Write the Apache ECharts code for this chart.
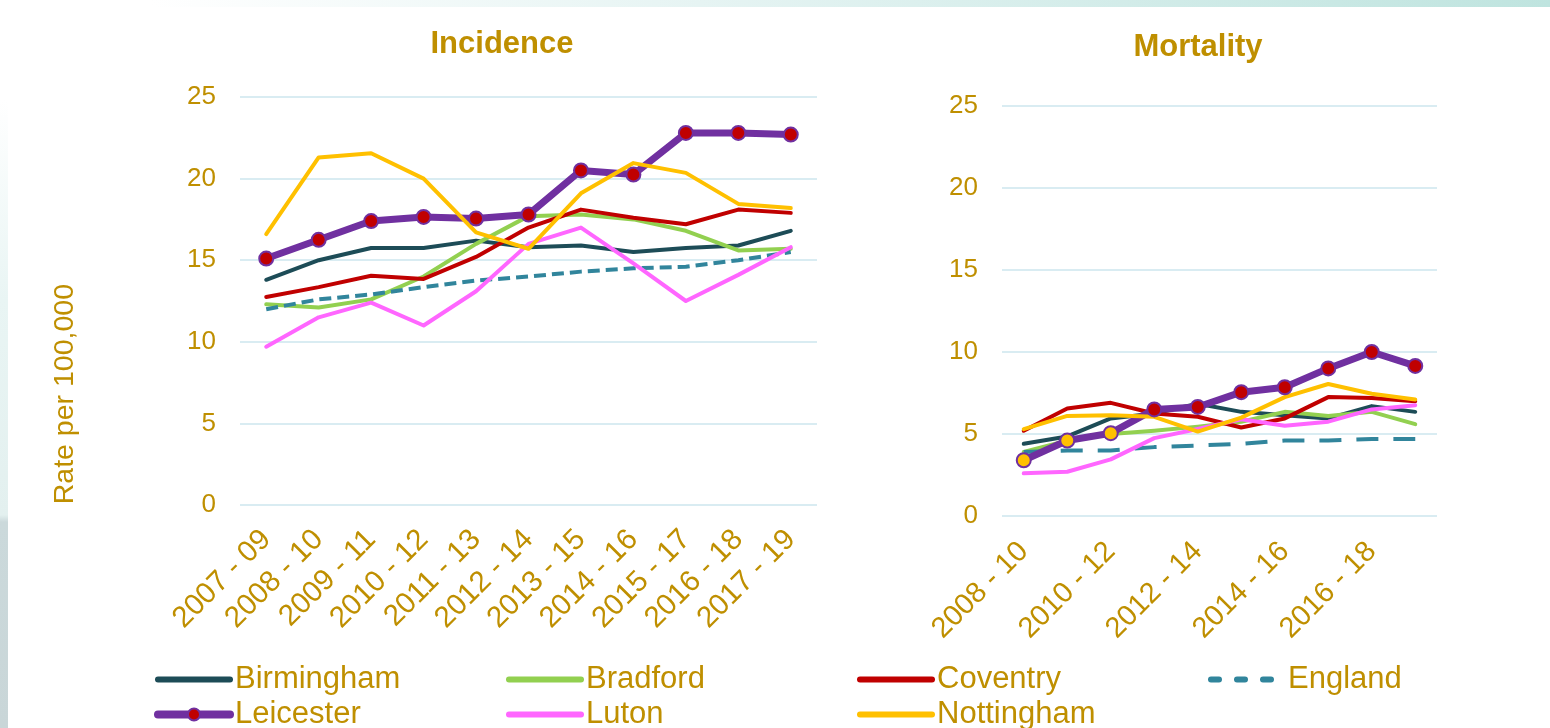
<!DOCTYPE html>
<html>
<head>
<meta charset="utf-8">
<script src="https://cdn.jsdelivr.net/npm/echarts@6/dist/echarts.min.js"></script>
<style>
  html, body { margin: 0; padding: 0; background: #ffffff; }
  #topbar { position: absolute; left: 0; top: 0; width: 1550px; height: 7px;
    background: linear-gradient(to right, #ffffff 0px, #ffffff 150px, #e6f4f3 700px, #bfe4df 1550px); }
  #leftbar { position: absolute; left: 0; top: 100px; width: 8px; height: 628px;
    background: linear-gradient(to bottom, #ffffff 0px, #e9f5f4 200px, #e3f0ef 415px, #cbd9db 422px, #c9d6d8 628px); }
  #chart { position: absolute; left: 0; top: 0; width: 1550px; height: 728px; }
</style>
</head>
<body>
<div id="topbar"></div>
<div id="leftbar"></div>
<div id="chart"></div>
<script>
// ---- Data ----
const incidenceCategories = ['2007 - 09','2008 - 10','2009 - 11','2010 - 12','2011 - 13','2012 - 14','2013 - 15','2014 - 16','2015 - 17','2016 - 18','2017 - 19'];
const mortalityCategories = ['2008 - 10','2009 - 11','2010 - 12','2011 - 13','2012 - 14','2013 - 15','2014 - 16','2015 - 17','2016 - 18','2017 - 19'];
const yTicks = [0, 5, 10, 15, 20, 25];

const seriesNames = ['Birmingham','Bradford','Coventry','England','Leicester','Luton','Nottingham'];

const incBirmingham = [13.8, 15.0, 15.75, 15.75, 16.2, 15.8, 15.9, 15.5, 15.75, 15.9, 16.8];
const incBradford   = [12.3, 12.1, 12.6, 14.0, 16.0, 17.7, 17.8, 17.5, 16.8, 15.6, 15.7];
const incCoventry   = [12.75, 13.35, 14.05, 13.85, 15.2, 17.0, 18.1, 17.6, 17.2, 18.1, 17.9];
const incEngland    = [12.0, 12.6, 12.9, 13.35, 13.75, 14.0, 14.3, 14.5, 14.6, 15.0, 15.5];
const incLeicester  = [15.1, 16.25, 17.4, 17.65, 17.55, 17.8, 20.5, 20.25, 22.8, 22.8, 22.7];
const incLuton      = [9.7, 11.5, 12.4, 11.0, 13.1, 16.0, 17.0, 14.8, 12.5, 14.1, 15.8];
const incNottingham = [16.6, 21.3, 21.55, 20.0, 16.7, 15.7, 19.1, 20.95, 20.35, 18.45, 18.2];

const morBirmingham = [4.4, 4.85, 5.95, 6.25, 6.85, 6.35, 6.15, 5.95, 6.7, 6.35];
const morBradford   = [3.9, 4.6, 5.0, 5.2, 5.45, 5.75, 6.35, 6.1, 6.35, 5.6];
const morCoventry   = [5.2, 6.55, 6.9, 6.25, 6.05, 5.4, 5.95, 7.25, 7.2, 7.0];
const morEngland    = [3.9, 4.0, 4.0, 4.2, 4.3, 4.4, 4.6, 4.6, 4.7, 4.7];
const morLeicester  = [3.4, 4.6, 5.05, 6.5, 6.65, 7.55, 7.85, 9.0, 10.0, 9.15];
const morLuton      = [2.6, 2.7, 3.45, 4.75, 5.3, 5.9, 5.5, 5.75, 6.5, 6.75];
const morNottingham = [5.3, 6.1, 6.15, 6.05, 5.15, 6.0, 7.25, 8.05, 7.45, 7.1];

const incData = [incBirmingham, incBradford, incCoventry, incEngland, incLeicester, incLuton, incNottingham];
const morData = [morBirmingham, morBradford, morCoventry, morEngland, morLeicester, morLuton, morNottingham];

// ---- Styles ----
const GOLD = '#BF8F00';
const FONT = "'Liberation Sans', Arial, sans-serif";
const colors = {
  Birmingham: '#1D4C57',
  Bradford: '#92D050',
  Coventry: '#C00000',
  England: '#31859C',
  Leicester: '#7030A0',
  Luton: '#FF66FF',
  Nottingham: '#FFC000'
};

function makeSeries(name, values, gridIdx, dash) {
  const s = {
    name: name,
    type: 'line',
    xAxisIndex: gridIdx,
    yAxisIndex: gridIdx,
    data: values.slice(),
    animation: false,
    lineStyle: { color: colors[name], width: 4, cap: 'round', join: 'round' },
    itemStyle: { color: colors[name] },
    symbol: 'none'
  };
  if (name === 'England') {
    s.lineStyle.type = dash;
    s.lineStyle.cap = 'butt';
  }
  if (name === 'Leicester') {
    s.symbol = 'circle';
    s.symbolSize = 14;
    s.showSymbol = true;
    s.lineStyle.width = 7;
    s.itemStyle = { color: '#C00000', borderColor: '#7030A0', borderWidth: 2 };
    if (gridIdx === 1) {
      s.data = values.map((v, i) => i < 3
        ? { value: v, itemStyle: { color: '#FFC000', borderColor: '#7030A0', borderWidth: 2 } }
        : v);
    }
  }
  return s;
}

const series = [];
seriesNames.forEach((n, i) => series.push(makeSeries(n, incData[i], 0, [12, 6])));
seriesNames.forEach((n, i) => series.push(makeSeries(n, morData[i], 1, [22, 15])));

function yAxis(gridIdx) {
  return {
    type: 'value', gridIndex: gridIdx, min: 0, max: 25, interval: 5,
    axisLine: { show: false }, axisTick: { show: false },
    splitLine: { lineStyle: { color: '#D9ECF2', width: 2 } },
    axisLabel: { color: GOLD, fontSize: 26, fontFamily: FONT, margin: 24,
      formatter: v => yTicks.includes(v) ? String(v) : '' }
  };
}

const legendData = seriesNames.map(n => {
  const item = { name: n, lineStyle: { width: 6, cap: 'round' } };
  if (n === 'Leicester') {
    item.lineStyle = { width: 8, cap: 'round' };
  } else {
    item.itemStyle = { opacity: 0 };
  }
  if (n === 'England') {
    item.lineStyle = { width: 6, type: [8, 18], cap: 'round' };
  }
  return item;
});

const option = {
  backgroundColor: 'transparent',
  animation: false,
  title: [
    { text: 'Incidence', left: 497, textAlign: 'center', top: 24,
      textStyle: { color: GOLD, fontSize: 31, fontWeight: 'bold', fontFamily: FONT } },
    { text: 'Mortality', left: 1193, textAlign: 'center', top: 27,
      textStyle: { color: GOLD, fontSize: 31, fontWeight: 'bold', fontFamily: FONT } }
  ],
  grid: [
    { left: 240, top: 97, width: 577, height: 408 },
    { left: 1002, top: 106, width: 435, height: 410 }
  ],
  xAxis: [
    { type: 'category', gridIndex: 0, data: incidenceCategories, boundaryGap: true,
      axisLine: { show: false }, axisTick: { show: false },
      axisLabel: { interval: 0, rotate: 45, color: GOLD, fontSize: 29.5, fontFamily: FONT, margin: 30 } },
    { type: 'category', gridIndex: 1, data: mortalityCategories, boundaryGap: true,
      axisLine: { show: false }, axisTick: { show: false },
      axisLabel: { interval: 1, rotate: 45, color: GOLD, fontSize: 29, fontFamily: FONT, margin: 31 } }
  ],
  yAxis: [yAxis(0), yAxis(1)],
  legend: {
    data: legendData,
    left: 149, top: 659, width: 1450,
    orient: 'horizontal',
    itemWidth: 72, itemHeight: 15, itemGap: 4,
    formatter: '{a|{name}}',
    textStyle: { color: GOLD, fontFamily: FONT,
      rich: { a: { width: 267, fontSize: 31, lineHeight: 30, color: GOLD, fontFamily: FONT } } }
  },
  graphic: [
    { type: 'text', left: 51, top: 284, rotation: Math.PI / 2,
      style: { text: 'Rate per 100,000', fill: GOLD, font: "28.5px 'Liberation Sans', Arial, sans-serif" } }
  ],
  series: series
};

const chart = echarts.init(document.getElementById('chart'), null, { renderer: 'canvas' });
chart.setOption(option);
</script>
</body>
</html>
